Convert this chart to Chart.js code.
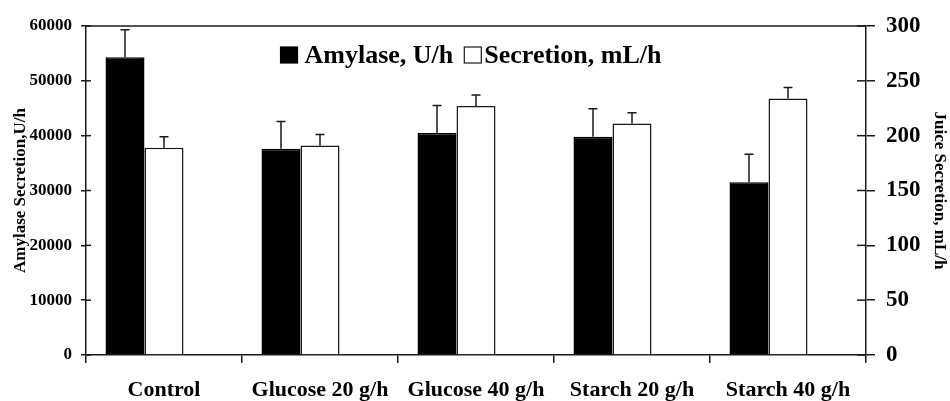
<!DOCTYPE html>
<html>
<head>
<meta charset="utf-8">
<script src="https://cdn.jsdelivr.net/npm/chart.js@4.4.0/dist/chart.umd.min.js"></script>
<style>
  html, body { margin: 0; padding: 0; background: #fff; }
  #wrap { width: 950px; height: 401px; }
</style>
</head>
<body>
<div id="wrap"><canvas id="chart"></canvas></div>
<script>
const categories = ['Control', 'Glucose 20 g/h', 'Glucose 40 g/h', 'Starch 20 g/h', 'Starch 40 g/h'];
const amylase = [54300, 37600, 40500, 39800, 31500];
const amylaseErr = [5000, 5000, 5000, 5100, 5100];
const secretion = [189, 191, 227, 211, 234];
const secretionErr = [10, 10, 10, 10, 10];
const amylaseTicks = [0, 10000, 20000, 30000, 40000, 50000, 60000];
const secretionTicks = [0, 50, 100, 150, 200, 250, 300];

const serif = "'Liberation Serif', 'Times New Roman', serif";
const ink = '#1a1a1a';

// error bars (upward only) + top frame line + inward half of the y ticks
const extras = {
    id: 'extras',
    afterDatasetsDraw(chart) {
        const ctx = chart.ctx;
        const area = chart.chartArea;
        ctx.save();
        ctx.strokeStyle = ink;
        ctx.lineWidth = 1.5;

        ctx.beginPath();
        ctx.moveTo(area.left, area.top);
        ctx.lineTo(area.right, area.top);
        ctx.stroke();

        [['y', 5, 1], ['y2', 9, -1]].forEach(([id, len, dir]) => {
            const sc = chart.scales[id];
            const x = dir > 0 ? area.left : area.right;
            sc.ticks.forEach(t => {
                const y = sc.getPixelForValue(t.value);
                ctx.beginPath();
                ctx.moveTo(x, y);
                ctx.lineTo(x + dir * len, y);
                ctx.stroke();
            });
        });

        chart.data.datasets.forEach((ds, i) => {
            if (!ds.errors) return;
            const meta = chart.getDatasetMeta(i);
            const sc = chart.scales[ds.yAxisID];
            meta.data.forEach((bar, j) => {
                const top = sc.getPixelForValue(ds.data[j] + ds.errors[j]);
                ctx.beginPath();
                ctx.moveTo(bar.x, bar.y);
                ctx.lineTo(bar.x, top);
                ctx.moveTo(bar.x - 4.5, top);
                ctx.lineTo(bar.x + 4.5, top);
                ctx.stroke();
            });
        });
        ctx.restore();
    }
};

// legend sits inside the plot, near the top
const innerLegend = {
    id: 'innerLegend',
    afterDraw(chart) {
        const ctx = chart.ctx;
        const area = chart.chartArea;
        const items = chart.data.datasets.filter(ds => ds.errors);
        const box = 17, gapText = [7, 3], gapItem = 11;
        const base = area.top + 37;
        ctx.save();
        ctx.font = 'bold 26px ' + serif;
        const widths = items.map(ds => ctx.measureText(ds.label).width);
        let total = 0;
        items.forEach((ds, i) => { total += box + gapText[i] + widths[i]; });
        total += gapItem * (items.length - 1);
        let x = (area.left + area.right) / 2 - 5 - total / 2;
        items.forEach((ds, i) => {
            ctx.fillStyle = ds.backgroundColor;
            ctx.fillRect(x, base - 16, box, 16);
            ctx.strokeStyle = ds.borderColor;
            ctx.lineWidth = 1.2;
            ctx.strokeRect(x, base - 16, box, 16);
            x += box + gapText[i];
            ctx.fillStyle = '#000';
            ctx.textBaseline = 'alphabetic';
            ctx.fillText(ds.label, x, base);
            x += widths[i] + gapItem;
        });
        ctx.restore();
    }
};

new Chart(document.getElementById('chart'), {
    type: 'bar',
    data: {
        labels: categories,
        datasets: [{
            label: 'Amylase, U/h',
            data: amylase,
            errors: amylaseErr,
            yAxisID: 'y',
            backgroundColor: '#000',
            borderColor: '#000',
            borderWidth: 1.5
        }, {
            label: 'Secretion, mL/h',
            data: secretion,
            errors: secretionErr,
            yAxisID: 'y2',
            backgroundColor: '#fff',
            borderColor: ink,
            borderWidth: 1.5
        }, {
            // empty third series, keeps the pair left of the category centre
            label: '',
            data: categories.map(() => null),
            yAxisID: 'y'
        }]
    },
    options: {
        responsive: true,
        maintainAspectRatio: false,
        animation: false,
        datasets: { bar: { categoryPercentage: 0.75, barPercentage: 1 } },
        layout: { padding: { top: 26, left: 0, right: 0, bottom: 0 } },
        plugins: {
            tooltip: { enabled: false },
            legend: { display: false }
        },
        scales: {
            x: {
                grid: { display: true, drawOnChartArea: false, offset: true, tickLength: 8, color: ink, lineWidth: 1.5 },
                border: { display: true, color: ink, width: 1.5 },
                ticks: { color: '#000', padding: 14, maxRotation: 0, font: { family: serif, weight: 'bold', size: 22 } },
                afterFit: s => { s.height = 46; }
            },
            y: {
                position: 'left',
                min: 0, max: 60000,
                afterBuildTicks: s => { s.ticks = amylaseTicks.map(v => ({ value: v })); },
                grid: { drawOnChartArea: false, tickLength: 5, color: ink, lineWidth: 1.5 },
                border: { display: true, color: ink, width: 1.5 },
                ticks: { color: '#000', padding: 9, callback: v => String(v), font: { family: serif, weight: 'bold', size: 17 } },
                title: { display: true, text: 'Amylase Secretion,U/h', color: '#000', padding: { top: 10, bottom: 0 }, font: { family: serif, weight: 'bold', size: 17 } },
                afterFit: s => { s.width = 86; }
            },
            y2: {
                position: 'right',
                min: 0, max: 300,
                afterBuildTicks: s => { s.ticks = secretionTicks.map(v => ({ value: v })); },
                grid: { drawOnChartArea: false, tickLength: 9, color: ink, lineWidth: 1.5 },
                border: { display: true, color: ink, width: 1.5 },
                ticks: { color: '#000', padding: 11, callback: v => String(v), font: { family: serif, weight: 'bold', size: 23 } },
                title: { display: true, text: 'Juice Secretion, mL/h', color: '#000', padding: { top: 0, bottom: 0 }, font: { family: serif, weight: 'bold', size: 17 } },
                afterFit: s => { s.width = 84; }
            }
        }
    },
    plugins: [extras, innerLegend]
});
</script>
</body>
</html>
